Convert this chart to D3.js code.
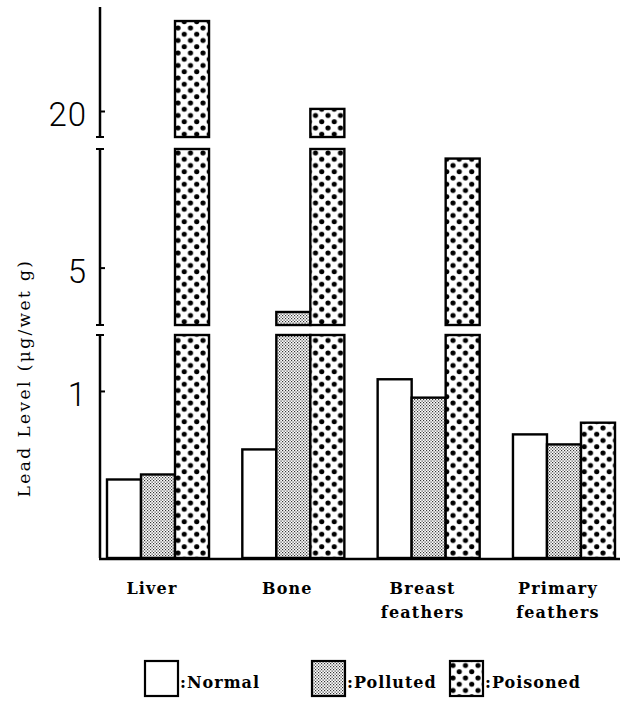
<!DOCTYPE html>
<html>
<head>
<meta charset="utf-8">
<script src="https://cdn.jsdelivr.net/npm/d3@7"></script>
<style>
  html, body { margin: 0; padding: 0; background: #fff; }
  svg { display: block; }
</style>
</head>
<body>
<svg id="chart" width="620" height="702"></svg>
<script>
// ---- Data ----
const categories = ["Liver", "Bone", "Breast feathers", "Primary feathers"];
const categoryLines = [["Liver"], ["Bone"], ["Breast", "feathers"], ["Primary", "feathers"]];
const seriesNames = ["Normal", "Polluted", "Poisoned"];
const normalValues = [0.47, 0.65, 1.07, 0.74];
const pollutedValues = [0.50, 2.68, 0.96, 0.68];
const poisonedValues = [37.3, 20.4, 10.7, 0.81];
// broken y-axis: value domains of the three pieces (bottom, middle, top)
const segmentDomains = [[0, 1.335], [2, 11.2], [15, 40]];
const tickValues = [1, 5, 20];
const yLabel = "Lead Level (\u03bcg/wet g)";

// ---- Layout ----
const svg = d3.select("#chart");
const axisX = 100;
const segmentRanges = [[558, 335], [325, 149], [137, 7]];
const segScales = segmentDomains.map((d, i) => d3.scaleLinear().domain(d).range(segmentRanges[i]));

const x0 = d3.scaleBand().domain(categories).range([107, 615]).paddingInner(0.246).paddingOuter(0);
const x1 = d3.scaleBand().domain(seriesNames).range([0, x0.bandwidth()]).padding(0);

// patterns
const defs = svg.append("defs");
const pPol = defs.append("pattern").attr("id", "polluted").attr("patternUnits", "userSpaceOnUse")
  .attr("width", 3).attr("height", 3);
pPol.append("rect").attr("width", 3).attr("height", 3).attr("fill", "#fff");
pPol.append("rect").attr("x", 0).attr("y", 0).attr("width", 1.2).attr("height", 1.2).attr("fill", "#333");
pPol.append("rect").attr("x", 1.5).attr("y", 1.5).attr("width", 1.2).attr("height", 1.2).attr("fill", "#333");

const pPois = defs.append("pattern").attr("id", "poisoned").attr("patternUnits", "userSpaceOnUse")
  .attr("width", 12.5).attr("height", 12.5);
pPois.append("rect").attr("width", 12.5).attr("height", 12.5).attr("fill", "#fff");
pPois.append("circle").attr("cx", 3).attr("cy", 3).attr("r", 2.6).attr("fill", "#000");
pPois.append("circle").attr("cx", 9.25).attr("cy", 9.25).attr("r", 2.6).attr("fill", "#000");

const fills = { Normal: "#fff", Polluted: "url(#polluted)", Poisoned: "url(#poisoned)" };
const seriesValues = { Normal: normalValues, Polluted: pollutedValues, Poisoned: poisonedValues };

// build bar pieces
const pieces = [];
categories.forEach((cat, ci) => {
  seriesNames.forEach(s => {
    const v = seriesValues[s][ci];
    segScales.forEach((sc, si) => {
      const [lo, hi] = segmentDomains[si];
      if (v <= lo) return;
      const top = Math.min(v, hi);
      pieces.push({ cat, s, y0: sc(lo), y1: sc(top) });
    });
  });
});

svg.append("g").selectAll("rect").data(pieces).join("rect")
  .attr("x", d => x0(d.cat) + x1(d.s))
  .attr("width", x1.bandwidth())
  .attr("y", d => d.y1)
  .attr("height", d => d.y0 - d.y1)
  .attr("fill", d => fills[d.s])
  .attr("stroke", "#000")
  .attr("stroke-width", 2.4);

// y axis pieces
const axisG = svg.append("g");
segScales.forEach((sc, si) => {
  const g = axisG.append("g").attr("transform", `translate(${axisX},0)`);
  const [r0, r1] = sc.range();
  g.append("line").attr("x1", 0).attr("x2", 0).attr("y1", r0).attr("y2", r1)
    .attr("stroke", "#000").attr("stroke-width", 2.5);
  const ends = [];
  if (si > 0) ends.push(r0);
  if (si < segScales.length - 1) ends.push(r1);
  if (si === segScales.length - 1) ends.push(r0);
  ends.forEach(y => g.append("line").attr("x1", -4).attr("x2", 4).attr("y1", y).attr("y2", y)
    .attr("stroke", "#000").attr("stroke-width", 2));
  const ticks = tickValues.filter(t => t >= sc.domain()[0] && t <= sc.domain()[1]);
  const ax = d3.axisRight(sc).tickValues(ticks).tickSize(5).tickFormat("");
  const ag = g.append("g").call(ax);
  ag.select(".domain").remove();
  ag.selectAll(".tick line").attr("stroke", "#000").attr("stroke-width", 2);
  ticks.forEach(t => g.append("text")
    .attr("x", -13).attr("y", sc(t) + 15)
    .attr("text-anchor", "end")
    .attr("font-family", "Roboto, 'Liberation Sans', sans-serif")
    .attr("font-weight", 300)
    .attr("font-size", 33)
    .attr("letter-spacing", 1)
    .attr("fill", "#000")
    .text(t));
});

// x axis
svg.append("line").attr("x1", axisX - 1).attr("x2", 620)
  .attr("y1", segmentRanges[0][0] + 1).attr("y2", segmentRanges[0][0] + 1)
  .attr("stroke", "#000").attr("stroke-width", 2.5);

// category labels
const labG = svg.append("g").attr("font-family", "'DejaVu Serif', serif")
  .attr("font-size", 16).attr("font-weight", "bold").attr("fill", "#000");
categories.forEach((cat, ci) => {
  const cx = x0(cat) + x0.bandwidth() / 2 - 6;
  const t = labG.append("text")
    .attr("x", cx)
    .attr("y", 594)
    .attr("text-anchor", "middle")
    .attr("letter-spacing", 1.2);
  categoryLines[ci].forEach((ln, li) => t.append("tspan")
    .attr("x", cx)
    .attr("dy", li === 0 ? 0 : 24).text(ln));
});

// y label
svg.append("text")
  .attr("transform", "translate(30,378) rotate(-90)")
  .attr("text-anchor", "middle")
  .attr("font-family", "'DejaVu Serif', serif")
  .attr("font-size", 17)
  .attr("letter-spacing", 2.4)
  .attr("fill", "#000")
  .text(yLabel);

// legend
const legendX = [145, 312, 450];
const legG = svg.append("g");
seriesNames.forEach((s, i) => {
  legG.append("rect").attr("x", legendX[i]).attr("y", 661).attr("width", 33).attr("height", 35)
    .attr("fill", fills[s]).attr("stroke", "#000").attr("stroke-width", 2.2);
  legG.append("text").attr("x", legendX[i] + 35).attr("y", 688)
    .attr("font-family", "'DejaVu Serif', serif").attr("font-size", 16)
    .attr("font-weight", "bold")
    .attr("letter-spacing", 1)
    .attr("fill", "#000").text(":" + s);
});
</script>
</body>
</html>
